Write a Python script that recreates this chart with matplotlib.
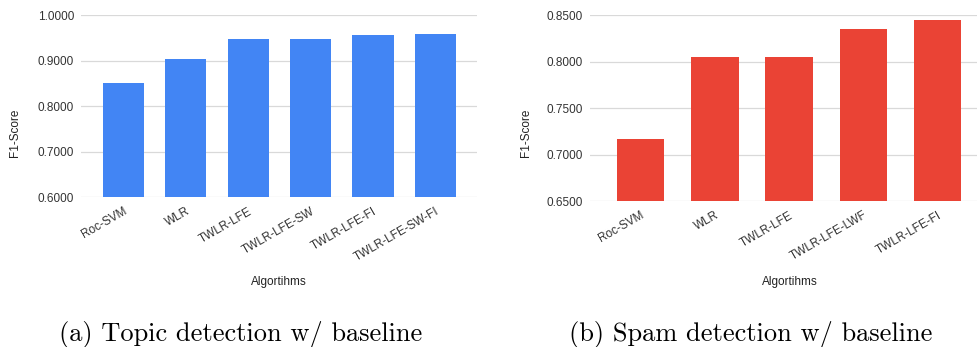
import matplotlib.pyplot as plt

# F1-scores per algorithm
topic_algos = ['Roc-SVM', 'WLR', 'TWLR-LFE', 'TWLR-LFE-SW', 'TWLR-LFE-FI', 'TWLR-LFE-SW-FI']
topic_f1 = [0.850, 0.903, 0.948, 0.948, 0.956, 0.958]
topic_ticks = [0.6, 0.7, 0.8, 0.9, 1.0]

spam_algos = ['Roc-SVM', 'WLR', 'TWLR-LFE', 'TWLR-LFE-LWF', 'TWLR-LFE-FI']
spam_f1 = [0.717, 0.805, 0.805, 0.835, 0.845]
spam_ticks = [0.65, 0.70, 0.75, 0.80, 0.85]

plt.rcParams['font.family'] = ['Liberation Sans', 'DejaVu Sans']

fig = plt.figure(figsize=(9.77, 3.47), dpi=100)
ax1 = fig.add_axes([0.0829, 0.432, 0.405, 0.5245])
ax2 = fig.add_axes([0.6039, 0.4207, 0.396, 0.536])


def draw(ax, names, vals, ticks, color, width, xlim):
    x = range(len(names))
    ax.bar(x, vals, width=width, color=color, zorder=3)
    ax.set_ylim(ticks[0], ticks[-1])
    ax.set_xlim(*xlim)
    ax.set_yticks(ticks)
    ax.set_yticklabels(['%.4f' % t for t in ticks], fontsize=8.5, color='#333333')
    ax.set_xticks(list(x))
    ax.set_xticklabels(names, rotation=30, ha='right', rotation_mode='anchor',
                       fontsize=8.5, color='#333333')
    ax.grid(axis='y', color='#d9d9d9', linewidth=0.9, zorder=0)
    for s in ax.spines.values():
        s.set_visible(False)
    ax.tick_params(length=0, pad=5)
    ax.tick_params(axis='x', pad=6)


draw(ax1, topic_algos, topic_f1, topic_ticks, '#4285F4', 0.66, (-0.68, 5.66))
draw(ax2, spam_algos, spam_f1, spam_ticks, '#EA4335', 0.64, (-0.68, 4.53))

# axis titles
fig.text(15 / 977, 1 - 133 / 347, 'F1-Score', rotation=90, ha='center', va='center',
         fontsize=8.5, color='#222222')
fig.text(526 / 977, 1 - 133 / 347, 'F1-Score', rotation=90, ha='center', va='center',
         fontsize=8.5, color='#222222')
fig.text(279 / 977, 1 - 282 / 347, 'Algortihms', ha='center', va='center',
         fontsize=8.5, color='#222222')
fig.text(790 / 977, 1 - 282 / 347, 'Algortihms', ha='center', va='center',
         fontsize=8.5, color='#222222')

# subfigure captions
fig.text(241 / 977, 1 - 335 / 347, '(a) Topic detection w/ baseline', ha='center',
         va='center', fontsize=19, family='cmr10')
fig.text(751 / 977, 1 - 335 / 347, '(b) Spam detection w/ baseline', ha='center',
         va='center', fontsize=19, family='cmr10')

fig.savefig('out.png', dpi=100, facecolor='white')
